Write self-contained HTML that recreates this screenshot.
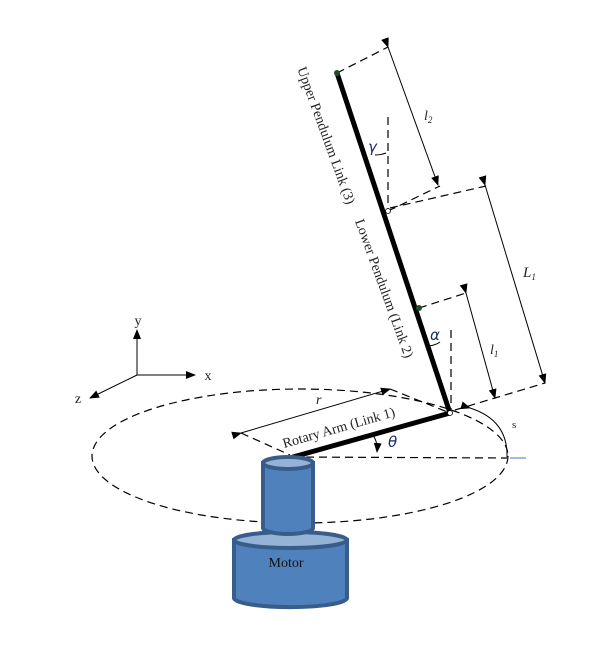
<!DOCTYPE html>
<html><head><style>body{margin:0;background:#fff}svg{display:block}</style></head><body>
<svg width="600" height="650" viewBox="0 0 600 650" xmlns="http://www.w3.org/2000/svg" font-family="Liberation Serif, serif">
<defs>
<marker id="a" markerWidth="10" markerHeight="8" refX="9" refY="4" orient="auto" markerUnits="userSpaceOnUse"><path d="M0,0 L10,4 L0,8 z" fill="#000"/></marker>
</defs>
<g fill="none" stroke="#000" stroke-width="1.2" stroke-dasharray="8,5">
<ellipse cx="300" cy="456" rx="208" ry="67"/>
<line x1="293" y1="457" x2="507" y2="458"/>
<line x1="337" y1="73" x2="388" y2="47"/>
<line x1="388" y1="117" x2="388" y2="211"/>
<line x1="388" y1="211" x2="440" y2="186"/>
<line x1="390" y1="208" x2="486" y2="186"/>
<line x1="419" y1="308" x2="466" y2="293"/>
<line x1="451" y1="330" x2="451" y2="413"/>
<line x1="455" y1="410" x2="545" y2="383"/>
<line x1="241" y1="433" x2="290" y2="455"/>
<line x1="390" y1="389" x2="450" y2="413"/>
</g>
<g stroke="#000" stroke-width="1" fill="none">
<line x1="388" y1="47" x2="438" y2="185" marker-start="url(#a)" marker-end="url(#a)"/>
<line x1="485" y1="185" x2="545" y2="383" marker-start="url(#a)" marker-end="url(#a)"/>
<line x1="466" y1="293" x2="495" y2="398" marker-start="url(#a)" marker-end="url(#a)"/>
<line x1="241" y1="433" x2="390" y2="389" marker-start="url(#a)" marker-end="url(#a)"/>
<path d="M470,408 Q508,420 507,457" marker-start="url(#a)"/>
<path d="M371,433 Q378,440 377,452" marker-end="url(#a)"/>
<path d="M429,346 Q436,345 440,342"/>
<path d="M375,155 Q381,155 386,153"/>
<line x1="137" y1="375" x2="137" y2="330" marker-end="url(#a)"/>
<line x1="137" y1="375" x2="195" y2="375" marker-end="url(#a)"/>
<line x1="137" y1="375" x2="90" y2="398" marker-end="url(#a)"/>
</g>
<line x1="510" y1="458" x2="526" y2="458" stroke="#5b8fd0" stroke-width="1.2"/>
<g stroke="#000" stroke-width="5" stroke-linecap="round">
<line x1="337" y1="73" x2="450" y2="413"/>
<line x1="293" y1="457" x2="450" y2="413"/>
</g>
<circle cx="337" cy="73" r="3" fill="#1f4d2a"/>
<circle cx="419" cy="308" r="3" fill="#1f4d2a"/>
<circle cx="388" cy="211" r="2.5" fill="#fff" stroke="#000" stroke-width="0.8"/>
<circle cx="450" cy="413" r="2.5" fill="#fff" stroke="#000" stroke-width="0.8"/>
<g stroke="#385d8a" stroke-width="4" fill="#4f81bd">
<path d="M234,540 L234,598 A56,9 0 0 0 347,598 L347,540 Z"/>
<ellipse cx="290.5" cy="540" rx="56.5" ry="8" fill="#95b3d7"/>
<path d="M263,463 L263,528 A25,6 0 0 0 313,528 L313,463 Z"/>
<ellipse cx="288" cy="463" rx="25" ry="6" fill="#95b3d7"/>
</g>
<text x="286" y="567" font-size="14" text-anchor="middle" fill="#111">Motor</text>
<g font-size="14" fill="#222">
<text x="138" y="325" text-anchor="middle">y</text>
<text x="208" y="380" text-anchor="middle">x</text>
<text x="78" y="403" text-anchor="middle">z</text>
<text transform="translate(322,137) rotate(70)" text-anchor="middle">Upper Pendulum Link (3)</text>
<text transform="translate(380,290) rotate(70)" text-anchor="middle">Lower Pendulum (Link 2)</text>
<text transform="translate(340,432) rotate(-16)" text-anchor="middle">Rotary Arm (Link 1)</text>
<text x="316" y="404" font-style="italic">r</text>
<text x="512" y="428" font-size="11">s</text>
<text x="424" y="120" font-style="italic">l<tspan font-size="9" dy="3">2</tspan></text>
<text x="523" y="277" font-style="italic" font-size="15">L<tspan font-size="9" dy="3">1</tspan></text>
<text x="490" y="354" font-style="italic">l<tspan font-size="9" dy="3">1</tspan></text>
</g>
<g font-family="DejaVu Sans, sans-serif" font-style="italic" font-size="15" fill="#1a2a6a">
<text x="368" y="152">γ</text>
<text x="430" y="340">α</text>
<text x="388" y="447">θ</text>
</g>
</svg>
</body></html>
